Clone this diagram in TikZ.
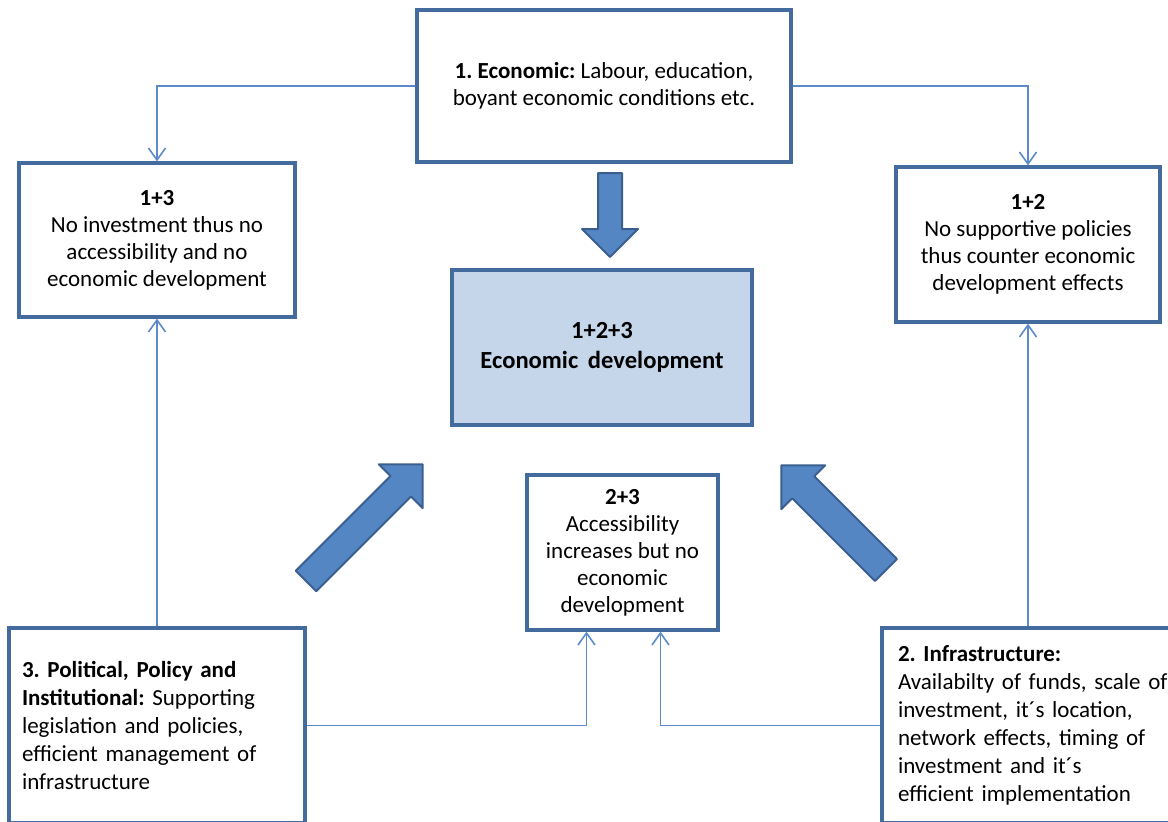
\documentclass[tikz,border=0pt]{standalone}
\usepackage{fontspec}
\setmainfont{Carlito}
\usetikzlibrary{arrows.meta}
\frenchspacing

\definecolor{boxblue}{RGB}{68,107,157}
\definecolor{linkblue}{RGB}{91,139,200}
\definecolor{arrowfill}{RGB}{84,134,196}
\definecolor{arrowdraw}{RGB}{58,95,142}
\definecolor{corefill}{RGB}{197,214,234}

\tikzset{
  box/.style={draw=boxblue, line width=1.6pt, fill=white, align=center,
    inner sep=0pt, font=\fontsize{11.5}{13.5}\selectfont},
  sidebox/.style={box, align=left, font=\fontsize{11.5}{14}\selectfont},
  link/.style={draw=linkblue, line width=0.8pt,
    -{Straight Barb[length=6pt,width=8.5pt]}},
  blockarrow/.style={fill=arrowfill, draw=arrowdraw, line width=1pt, line join=round}
}

% fat arrow: tail x, tail y, angle, length, shaft half width, head half width
\newcommand\bigarrow[6]{%
  \begin{scope}[shift={(#1,#2)}, rotate=#3]
    \filldraw[blockarrow] (0,-#5) -- ({#4-#6},-#5) -- ({#4-#6},-#6) -- (#4,0)
      -- ({#4-#6},#6) -- ({#4-#6},#5) -- (0,#5) -- cycle;
  \end{scope}}

\begin{document}
\begin{tikzpicture}[x=0.5pt,y=-0.5pt]
  \useasboundingbox (0,0) rectangle (1168,821);
  \clip (0,0) rectangle (1168,821);

  % the three factors
  \node[box, minimum width=187pt, minimum height=76pt] (eco) at (604,86)
    {\textbf{1. Economic:} Labour, education,\\boyant economic conditions etc.};
  \node[sidebox, minimum height=97.5pt, text width=135pt, inner xsep=6.5pt] (pol) at (157,725.5)
    {\textbf{3. Political, Policy and}\\\textbf{Institutional:} Supporting\\legislation and policies,\\efficient management of\\infrastructure};
  \node[sidebox, minimum height=97.5pt, text width=138pt, inner xsep=8pt] (infra) at (1036,725.5)
    {\textbf{2. Infrastructure:}\\Availabilty of funds, scale of\\investment, it´s location,\\network effects, timing of\\investment and it´s\\efficient implementation};

  % combinations
  \node[box, minimum width=138pt, minimum height=77pt] (left13) at (157,240)
    {\textbf{1+3}\\No investment thus no\\accessibility and no\\economic development};
  \node[box, minimum width=132pt, minimum height=77.5pt] (right12) at (1028,244.5)
    {\textbf{1+2}\\No supportive policies\\thus counter economic\\development effects};
  \node[box, minimum width=95.5pt, minimum height=77.5pt] (mid23) at (622.5,552.5)
    {\textbf{2+3}\\Accessibility\\increases but no\\economic\\development};
  \node[box, fill=corefill, minimum width=150pt, minimum height=77.5pt,
    font=\fontsize{12.3}{15}\selectfont\bfseries] (core) at (602,347.5)
    {1+2+3\\Economic\, development};

  % thin links
  \draw[link] (eco.west) -| (left13.north);
  \draw[link] (eco.east) -| (right12.north);
  \draw[link] (pol.north) -- (left13.south);
  \draw[link] (right12.south |- infra.north) -- (right12.south);
  \draw[link] (pol.east) -| ([xshift=-18pt]mid23.south);
  \draw[link] (infra.west) -| ([xshift=19pt]mid23.south);

  % fat arrows into the core
  \bigarrow{610}{173}{-90}{84}{12}{28}
  \bigarrow{306}{581}{45}{165}{14.5}{31}
  \bigarrow{886}{570}{135}{148}{15.5}{31}
\end{tikzpicture}
\end{document}
